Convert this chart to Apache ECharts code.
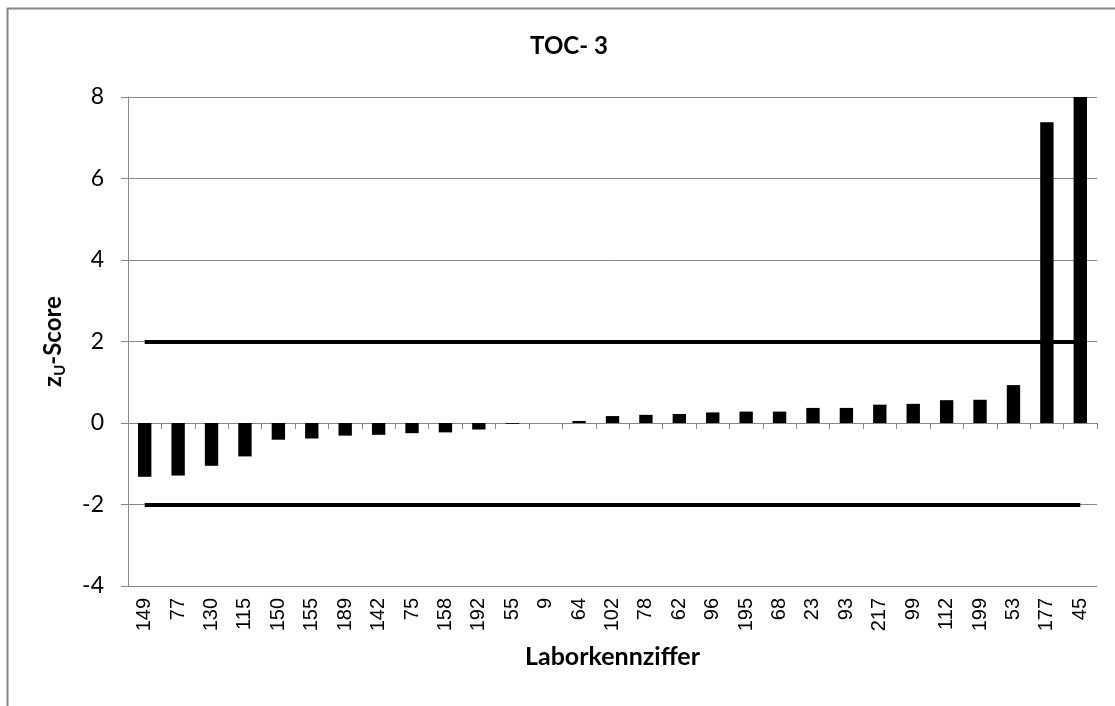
<!DOCTYPE html>
<html>
<head>
<meta charset="utf-8">
<title>TOC- 3</title>
<script src="https://cdn.jsdelivr.net/npm/echarts@6/dist/echarts.min.js"></script>
<style>
  html, body { margin: 0; padding: 0; background: #ffffff; }
  #chart { width: 1115px; height: 706px; }
</style>
</head>
<body>
<div id="chart"></div>
<script>
// Laboratory codes, sorted by z_U-score
const labCodes = ['149', '77', '130', '115', '150', '155', '189', '142', '75', '158', '192', '55', '9', '64',
  '102', '78', '62', '96', '195', '68', '23', '93', '217', '99', '112', '199', '53', '177', '45'];

// z_U-score of each laboratory
const zScores = [-1.32, -1.29, -1.05, -0.82, -0.41, -0.38, -0.31, -0.29, -0.25, -0.23, -0.16, -0.02, 0.0, 0.05,
  0.17, 0.20, 0.22, 0.26, 0.28, 0.28, 0.37, 0.37, 0.45, 0.47, 0.56, 0.57, 0.93, 7.38, 8.0];

// Acceptance limits |z_U| <= 2
const limits = [2, -2];

// Value axis range and tick step
const yMin = -4, yMax = 8, yStep = 2;

const gridGray = '#868686';
const chart = echarts.init(document.getElementById('chart'), null, { renderer: 'canvas' });

const limitLines = limits.map(v => [
  { xAxis: labCodes[0], yAxis: v },
  { xAxis: labCodes[labCodes.length - 1], yAxis: v }
]);

chart.setOption({
  animation: false,
  backgroundColor: '#ffffff',
  graphic: [{
    type: 'rect',
    left: 5, top: 6,
    shape: { x: 0, y: 0, width: 1200, height: 800 },
    style: { fill: 'none', stroke: gridGray, lineWidth: 2 },
    silent: true, z: -10
  }],
  title: {
    text: 'TOC- 3',
    left: 564, top: 29,
    textAlign: 'center',
    textStyle: { fontFamily: 'Lato', fontWeight: 'bold', fontSize: 24, color: '#000' }
  },
  grid: { left: 128, right: 18, top: 97, bottom: 120, containLabel: false },
  xAxis: [{
    type: 'category',
    data: labCodes,
    position: 'bottom',
    axisLine: { show: false, onZero: false },
    axisTick: { show: false },
    splitLine: { show: false },
    axisLabel: {
      rotate: 90, margin: 12, interval: 0,
      fontFamily: 'Liberation Sans', fontSize: 20, color: '#000'
    },
    name: 'Laborkennziffer',
    nameLocation: 'middle',
    nameGap: 58,
    nameTextStyle: { fontFamily: 'Lato', fontWeight: 'bold', fontSize: 25, color: '#000' }
  }, {
    type: 'category',
    data: labCodes,
    position: 'bottom',
    axisLine: { show: true, onZero: true, onZeroAxisIndex: 0, lineStyle: { color: gridGray, width: 1 } },
    axisTick: { show: true, length: 6, inside: false, lineStyle: { color: gridGray } },
    axisLabel: { show: false },
    splitLine: { show: false }
  }],
  yAxis: {
    type: 'value',
    min: yMin, max: yMax, interval: yStep,
    axisLine: { show: true, lineStyle: { color: gridGray, width: 1 } },
    axisTick: { show: true, length: 7, lineStyle: { color: gridGray } },
    splitLine: { show: true, lineStyle: { color: gridGray, width: 1 } },
    axisLabel: { margin: 24, fontFamily: 'Lato', fontSize: 23, color: '#000' },
    name: '{a|z}{b|U}{a|-Score}',
    nameLocation: 'middle',
    nameRotate: 90,
    nameGap: 60,
    nameTextStyle: {
      color: '#000',
      rich: {
        a: { fontFamily: 'Lato', fontWeight: 'bold', fontSize: 24, lineHeight: 30, color: '#000' },
        b: { fontFamily: 'Lato', fontWeight: 'bold', fontSize: 15, lineHeight: 10, verticalAlign: 'bottom', color: '#000' }
      }
    }
  },
  series: [{
    type: 'bar',
    xAxisIndex: 0,
    data: zScores,
    barWidth: '40%',
    itemStyle: { color: '#000' },
    markLine: {
      silent: true,
      symbol: 'none',
      label: { show: false },
      lineStyle: { color: '#000', width: 4, type: 'solid' },
      data: limitLines
    }
  }]
});
</script>
</body>
</html>
